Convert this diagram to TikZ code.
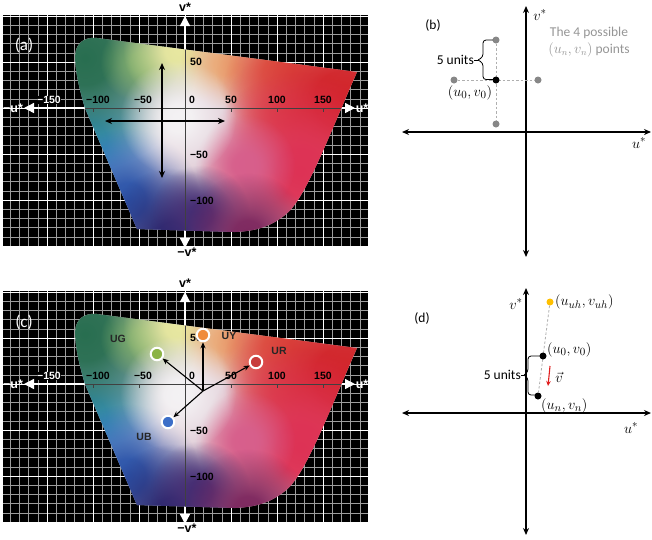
\documentclass[tikz,border=0pt]{standalone}
\usepackage{fontspec}
\setmainfont{Carlito}
\newfontfamily\arialf{Liberation Sans}
\usetikzlibrary{arrows.meta,fadings}
\pgfdeclareradialshading{blobsh}{\pgfpointorigin}{color(0bp)=(transparent!0); color(6bp)=(transparent!5); color(14bp)=(transparent!45); color(25bp)=(transparent!100); color(50bp)=(transparent!100)}
\pgfdeclarefading{blob}{\pgfuseshading{blobsh}}
\definecolor{cBase}{RGB}{225,205,215}
\definecolor{cGreen}{RGB}{40,110,80}
\definecolor{cLGreen}{RGB}{125,172,108}
\definecolor{cYel}{RGB}{232,232,160}
\definecolor{cPeach}{RGB}{235,170,120}
\definecolor{cOra}{RGB}{228,100,70}
\definecolor{cRed}{RGB}{210,35,40}
\definecolor{cRose}{RGB}{228,105,105}
\definecolor{cCyan}{RGB}{55,155,215}
\definecolor{cBlue}{RGB}{45,85,170}
\definecolor{cNavy}{RGB}{40,38,110}
\definecolor{cIndigo}{RGB}{70,45,115}
\definecolor{cPurp}{RGB}{125,40,95}
\definecolor{cCrim}{RGB}{222,50,85}
\definecolor{cMag}{RGB}{215,95,140}
\definecolor{cWhite}{RGB}{244,242,244}
\definecolor{gray55}{RGB}{135,135,135}
\definecolor{gray70}{RGB}{175,175,175}
\definecolor{txtgray}{RGB}{150,150,150}
\definecolor{ydotc}{RGB}{255,192,0}
\definecolor{redarr}{RGB}{225,30,30}
\definecolor{ringG}{RGB}{140,180,70}
\definecolor{ringY}{RGB}{240,140,60}
\definecolor{ringR}{RGB}{200,60,60}
\definecolor{ringB}{RGB}{60,110,200}
\tikzset{
 gridminor/.style={draw=white!62!black, line width=0.5pt},
 gridmajor/.style={draw=white, line width=1pt},
 axw/.style={white, line width=1.3pt, -{Triangle[length=10pt,width=10pt]}},
 ticklab/.style={font=\arialf\bfseries\fontsize{10.5}{12}\selectfont, inner sep=0.5pt},
 axlab/.style={font=\arialf\bfseries\fontsize{12.5}{14}\selectfont, inner sep=0pt},
 panlab/.style={font=\fontsize{17}{20}\selectfont, text=white, inner sep=0pt},
 dblarrow/.style={black, line width=1.3pt, {Stealth[length=7pt,width=6pt]}-{Stealth[length=7pt,width=6pt]}},
 vecarrow/.style={black, line width=1.1pt, -{Stealth[length=6pt,width=5pt]}},
 plainax/.style={black, line width=1.4pt, {Stealth[length=7pt,width=6pt]}-{Stealth[length=7pt,width=6pt]}},
 gdot/.style={circle, fill=gray55, inner sep=0pt, minimum size=7pt},
 bdot/.style={circle, fill=black, inner sep=0pt, minimum size=7pt},
 ydot/.style={circle, fill=ydotc, inner sep=0pt, minimum size=7pt},
 dashline/.style={draw=gray70, line width=0.8pt, dash pattern=on 2.5pt off 2pt},
 txt/.style={font=\fontsize{13.5}{17}\selectfont, inner sep=0pt},
 mlab/.style={font=\fontsize{15}{17}\selectfont, inner sep=0pt},
 ring/.style={circle, draw=white, line width=2pt, minimum size=12.5pt, inner sep=0pt},
 colab/.style={font=\arialf\bfseries\fontsize{10.5}{12}\selectfont, text=black!85, inner sep=0pt},
 bracel/.style={black, line width=0.8pt, rounded corners=3pt},
}
\newcommand{\gamutpath}{(97,38) -- (357,72) .. controls (327,140) and (305,200) .. (285,215) .. controls (270,227) and (255,231) .. (235,232) -- (137,229) -- (85,108) .. controls (78,85) and (73,60) .. (76,50) .. controls (79,40) and (88,37) .. (97,38) -- cycle}
\newcommand{\cieplane}[2]{%
\begin{scope}[shift={(0,#2)}]
\fill[black] (3,15) rectangle (368,247);
\begin{scope}
\clip (3,15) rectangle (368,247);
\foreach \k in {-20,...,20}{\draw[gridminor] ({185+\k*9.2},15) -- ({185+\k*9.2},247);}
\foreach \k in {-11,...,16}{\draw[gridminor] (3,{108+\k*9.2}) -- (368,{108+\k*9.2});}
\foreach \k in {-4,...,4}{\draw[gridmajor] ({185+\k*46},15) -- ({185+\k*46},247);}
\foreach \k in {-2,...,3}{\draw[gridmajor] (3,{108+\k*46}) -- (368,{108+\k*46});}
\end{scope}
\coordinate (#1o) at (185,108);
\coordinate (#1t) at (185,16);
\coordinate (#1b) at (185,248);
\coordinate (#1l) at (24,108);
\coordinate (#1r) at (355,108);
\draw[axw] (#1o) -- (#1t);
\draw[axw] (#1o) -- (#1b);
\draw[axw] (#1o) -- (#1l);
\draw[axw] (#1o) -- (#1r);
\fill[cBase] \gamutpath;
\begin{scope}
\clip \gamutpath;
\fill[cCyan, path fading=blob] (88,140) circle (78);
\fill[cGreen, path fading=blob] (85,58) circle (112);
\fill[cLGreen, path fading=blob] (140,62) circle (40);
\fill[cYel, path fading=blob] (178,50) circle (55);
\fill[cPeach, path fading=blob] (225,64) circle (45);
\fill[cOra, path fading=blob] (278,72) circle (62);
\fill[cRose, path fading=blob] (285,110) circle (60);
\fill[cRed, path fading=blob] (342,100) circle (120);
\fill[cCrim, path fading=blob] (300,172) circle (100);
\fill[cMag, path fading=blob] (245,165) circle (50);
\fill[cBlue, path fading=blob] (128,200) circle (72);
\fill[cNavy, path fading=blob] (172,238) circle (70);
\fill[cIndigo, path fading=blob] (200,215) circle (50);
\fill[cPurp, path fading=blob] (248,235) circle (62);
\fill[cWhite, path fading=blob] (178,118) circle (58);
\draw[black!75, line width=0.6pt] (3,108) -- (368,108) (185,15) -- (185,247);
\foreach \u in {-100,-50,50,100,150}{\draw[black!75, line width=0.6pt] ({185+\u*0.92},108) -- ({185+\u*0.92},111.5);}
\end{scope}
\node[ticklab, fill=black, text=white] (#1m150) at (49,100) {−150};
\node[ticklab] (#1m100) at (98,100) {−100};
\node[ticklab] (#1m50) at (143,100) {−50};
\node[ticklab] (#1z) at (192,100) {0};
\node[ticklab] (#1p50) at (231,100) {50};
\node[ticklab] (#1p100) at (277,100) {100};
\node[ticklab] (#1p150) at (323,100) {150};
\node[ticklab] (#1v50) at (196,62) {50};
\node[ticklab] (#1vm50) at (199,155) {−50};
\node[ticklab] (#1vm100) at (202,201) {−100};
\node[axlab] (#1vl) at (185,7) {v*};
\node[axlab] (#1vml) at (187,252) {−v*};
\node[axlab, text=white] (#1ul) at (13,108) {−u*};
\node[axlab, text=white] (#1url) at (362,108) {u*};
\end{scope}}
\begin{document}
\begin{tikzpicture}[x=1pt,y=-1pt]
\useasboundingbox (0,0) rectangle (652,539);
\fill[white] (0,0) rectangle (652,539);
% ---------- (a)
\cieplane{a}{0}
\node[panlab] (alab) at (24,45) {(a)};
\coordinate (aU) at (162,63);
\coordinate (aD) at (162,178);
\coordinate (aL) at (105,121);
\coordinate (aR) at (225,121);
\draw[dblarrow] (aU) -- (aD);
\draw[dblarrow] (aL) -- (aR);
% ---------- (c)
\cieplane{c}{276}
\node[panlab] (clab) at (24,322) {(c)};
\node[colab] (UG) at (118,339) {UG};
\node[colab] (UY) at (229,336) {UY};
\node[colab] (UR) at (279,351) {UR};
\node[colab] (UB) at (144,437) {UB};
\node[ring, fill=ringG] (cG) at (157,354) {};
\node[ring, fill=ringY] (cY) at (203,335) {};
\node[ring, fill=ringR] (cR) at (256,362) {};
\node[ring, fill=ringB] (cB) at (168,422) {};
\coordinate (cO) at (203,391);
\draw[vecarrow] (cO) -- (cG);
\draw[vecarrow] (cO) -- (cY);
\draw[vecarrow] (cO) -- (cR);
\draw[vecarrow] (cO) -- (cB);
% ---------- (b)
\coordinate (bT) at (526,6);
\coordinate (bB) at (526,257);
\coordinate (bL) at (402,132);
\coordinate (bR) at (651,132);
\draw[plainax] (bT) -- (bB);
\draw[plainax] (bL) -- (bR);
\node[txt] (blab) at (433,25) {(b)};
\node[mlab] (bv) at (540,15) {$v^*$};
\node[mlab] (bu) at (639,143) {$u^*$};
\node[txt, text=txtgray, align=center] (bnote) at (589,42) {The 4 possible\\$(u_n,v_n)$ points};
\node[gdot] (bN) at (496,40) {};
\node[gdot] (bS) at (496,124) {};
\node[gdot] (bW) at (454,80) {};
\node[gdot] (bE) at (538,80) {};
\draw[dashline] (bW) -- (bE);
\draw[dashline] (bN) -- (bS);
\node[bdot] (b0) at (496,80) {};
\node[mlab] (b0l) at (470,93) {$(u_0,v_0)$};
\draw[bracel] (493,40) -- (483,40) -- (483,57) -- (478,60);
\draw[bracel] (493,79.5) -- (483,79.5) -- (483,63) -- (478,60);
\draw[black, line width=0.8pt] (478,60) -- (474,60);
\node[txt, anchor=east] (b5) at (474,60) {5 units};
% ---------- (d)
\coordinate (dT) at (526,288);
\coordinate (dB) at (526,535);
\coordinate (dL) at (402,413);
\coordinate (dR) at (651,413);
\draw[plainax] (dT) -- (dB);
\draw[plainax] (dL) -- (dR);
\node[txt] (dlab) at (422,318) {(d)};
\node[mlab] (dv) at (516,304) {$v^*$};
\node[mlab] (du) at (631,428) {$u^*$};
\node[ydot] (dY) at (550,302) {};
\node[bdot] (dN) at (538,396) {};
\draw[dashline] (dY) -- (dN);
\node[bdot] (d0) at (543,356) {};
\node[mlab, anchor=west] (dYl) at (555,302) {$(u_{uh},v_{uh})$};
\node[mlab, anchor=west] (d0l) at (547,350) {$(u_0,v_0)$};
\node[mlab, anchor=west] (dNl) at (541,406) {$(u_n,v_n)$};
\coordinate (dA1) at (550,366);
\coordinate (dA2) at (548,386);
\draw[redarr, line width=1.1pt, -{Stealth[length=5pt,width=4.5pt]}] (dA1) -- (dA2);
\node[mlab] (dvec) at (559,377) {$\vec{v}$};
\draw[bracel] (540,356) -- (528,356) -- (528,372) -- (524,375);
\draw[bracel] (537,395) -- (528,395) -- (528,378) -- (524,375);
\draw[black, line width=0.8pt] (524,375) -- (521,375);
\node[txt, anchor=east] (d5) at (521,375) {5 units};
\end{tikzpicture}
\end{document}
